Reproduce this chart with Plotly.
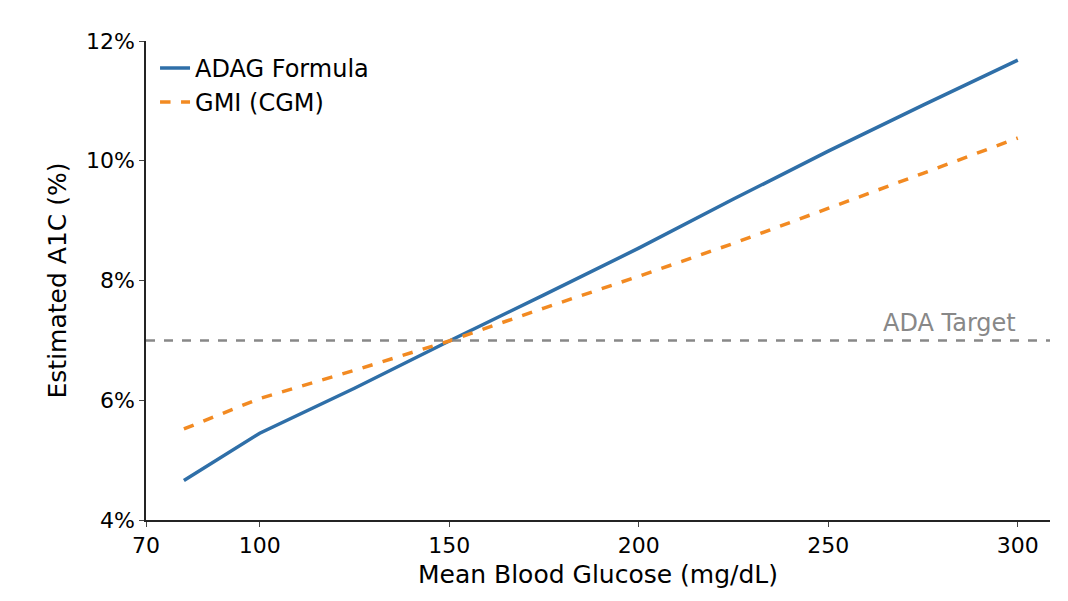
import plotly.graph_objects as go

glucose = [80, 100, 125, 150, 175, 200, 225, 250, 275, 300]
adag_a1c = [4.66, 5.45, 6.2, 6.99, 7.76, 8.54, 9.36, 10.16, 10.93, 11.68]
gmi_a1c = [5.52, 6.03, 6.5, 6.99, 7.54, 8.07, 8.62, 9.2, 9.79, 10.38]
target = 7.0
x_ticks = [70, 100, 150, 200, 250, 300]
y_ticks = [4, 6, 8, 10, 12]
y_labels = ['4%', '6%', '8%', '10%', '12%']

fig = go.Figure()
fig.add_trace(go.Scatter(x=glucose, y=adag_a1c, mode='lines', name='ADAG Formula',
                         line=dict(color='#2f6fa8', width=3.5)))
fig.add_trace(go.Scatter(x=glucose, y=gmi_a1c, mode='lines', name='GMI (CGM)',
                         line=dict(color='#f28a22', width=3.5, dash='dash')))
fig.add_hline(y=target, line_dash='dash', line_color='#888888', line_width=2.5, opacity=1)
fig.add_annotation(x=300, y=target, text='ADA Target', showarrow=False,
                   xanchor='right', yanchor='bottom', yshift=1, font=dict(size=24, color='#888888'))

fig.update_layout(
    width=1068, height=601, template='simple_white',
    margin=dict(l=138, r=26, t=33, b=89),
    font=dict(family='DejaVu Sans', size=22, color='black'),
    legend=dict(x=0.01, y=0.99, font=dict(size=24), bgcolor='rgba(0,0,0,0)'),
    xaxis=dict(range=[70, 308.5], tickvals=x_ticks, title=dict(text='Mean Blood Glucose (mg/dL)', font=dict(size=25), standoff=8),
               ticks='outside', showline=True, linewidth=1.5, tickfont=dict(size=22)),
    yaxis=dict(range=[4, 12], tickvals=y_ticks, ticktext=y_labels, title=dict(text='Estimated A1C (%)', font=dict(size=25), standoff=12),
               ticks='outside', showline=True, linewidth=1.5, tickfont=dict(size=22)),
)
fig.write_html("out.html")
